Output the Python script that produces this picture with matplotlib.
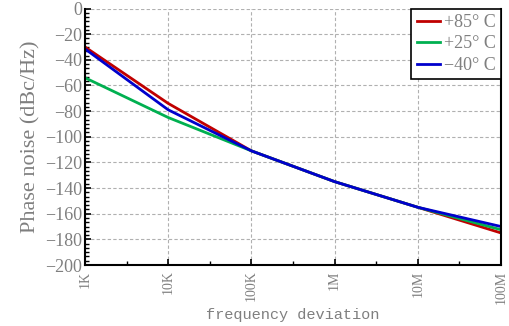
import numpy as np
import matplotlib.pyplot as plt
from matplotlib.ticker import FixedLocator, AutoMinorLocator, NullFormatter

# frequency offsets (Hz) and phase noise per temperature
freq = [1e3, 1e4, 1e5, 1e6, 1e7, 1e8]
freq_labels = ["1K", "10K", "100K", "1M", "10M", "100M"]
pn_85 = [-30, -74, -111, -135, -155, -175]
pn_25 = [-54, -85, -111, -135, -155, -172.5]
pn_m40 = [-31.5, -79, -111, -135, -155, -170]

grey = "#7f7f7f"
font = "Liberation Serif"

fig = plt.figure(figsize=(5.09, 3.26), dpi=100)
ax = fig.add_axes([85 / 509, 1 - 265 / 326, 416 / 509, 256.5 / 326])

ax.plot(freq, pn_85, color="#c00000", lw=2.0, label="+85° C")
ax.plot(freq, pn_25, color="#00b050", lw=2.0, label="+25° C")
ax.plot(freq, pn_m40, color="#0000cc", lw=2.0, label="\u221240° C")

ax.set_xscale("log")
ax.set_xlim(1e3, 1e8)
ax.set_ylim(-200, 0)
ax.set_yticks(np.arange(-200, 1, 20))
ax.yaxis.set_minor_locator(AutoMinorLocator(6))
ax.set_xticks(freq)
ax.set_xticklabels(freq_labels, rotation=90)
ax.xaxis.set_minor_locator(FixedLocator([10 ** (k + 0.5) for k in range(3, 8)]))
ax.xaxis.set_minor_formatter(NullFormatter())

ax.grid(True, which="major", color="#b0b0b0", ls=(0, (3, 2)), lw=0.8)
ax.tick_params(which="both", direction="in", colors="black", labelcolor=grey)
ax.tick_params(which="major", length=4, width=1.2)
ax.tick_params(which="minor", length=3, width=1.0)
ax.tick_params(axis="y", right=False, labelsize=13, pad=2)
ax.tick_params(axis="x", top=False, labelsize=10, pad=4)
for lab in ax.get_xticklabels() + ax.get_yticklabels():
    lab.set_fontfamily(font)

ax.spines["top"].set_visible(False)
for s in ["left", "bottom", "right"]:
    ax.spines[s].set_linewidth(1.5)
    ax.spines[s].set_color("black")

ax.set_ylabel("Phase noise (dBc/Hz)", fontsize=16, color=grey, family=font, labelpad=3)
ax.set_xlabel("frequency deviation", fontsize=11, color=grey, family="Liberation Mono", labelpad=3)

leg = ax.legend(loc="upper right", bbox_to_anchor=(1.0, 1.0), borderaxespad=0,
                fancybox=False, frameon=True, framealpha=1, edgecolor="black",
                prop={"family": font, "size": 13}, handlelength=1.3,
                handletextpad=0.2, labelspacing=0.25, borderpad=0.3)
leg.get_frame().set_linewidth(1.2)
for t in leg.get_texts():
    t.set_color(grey)

fig.savefig("out.png", dpi=100)
